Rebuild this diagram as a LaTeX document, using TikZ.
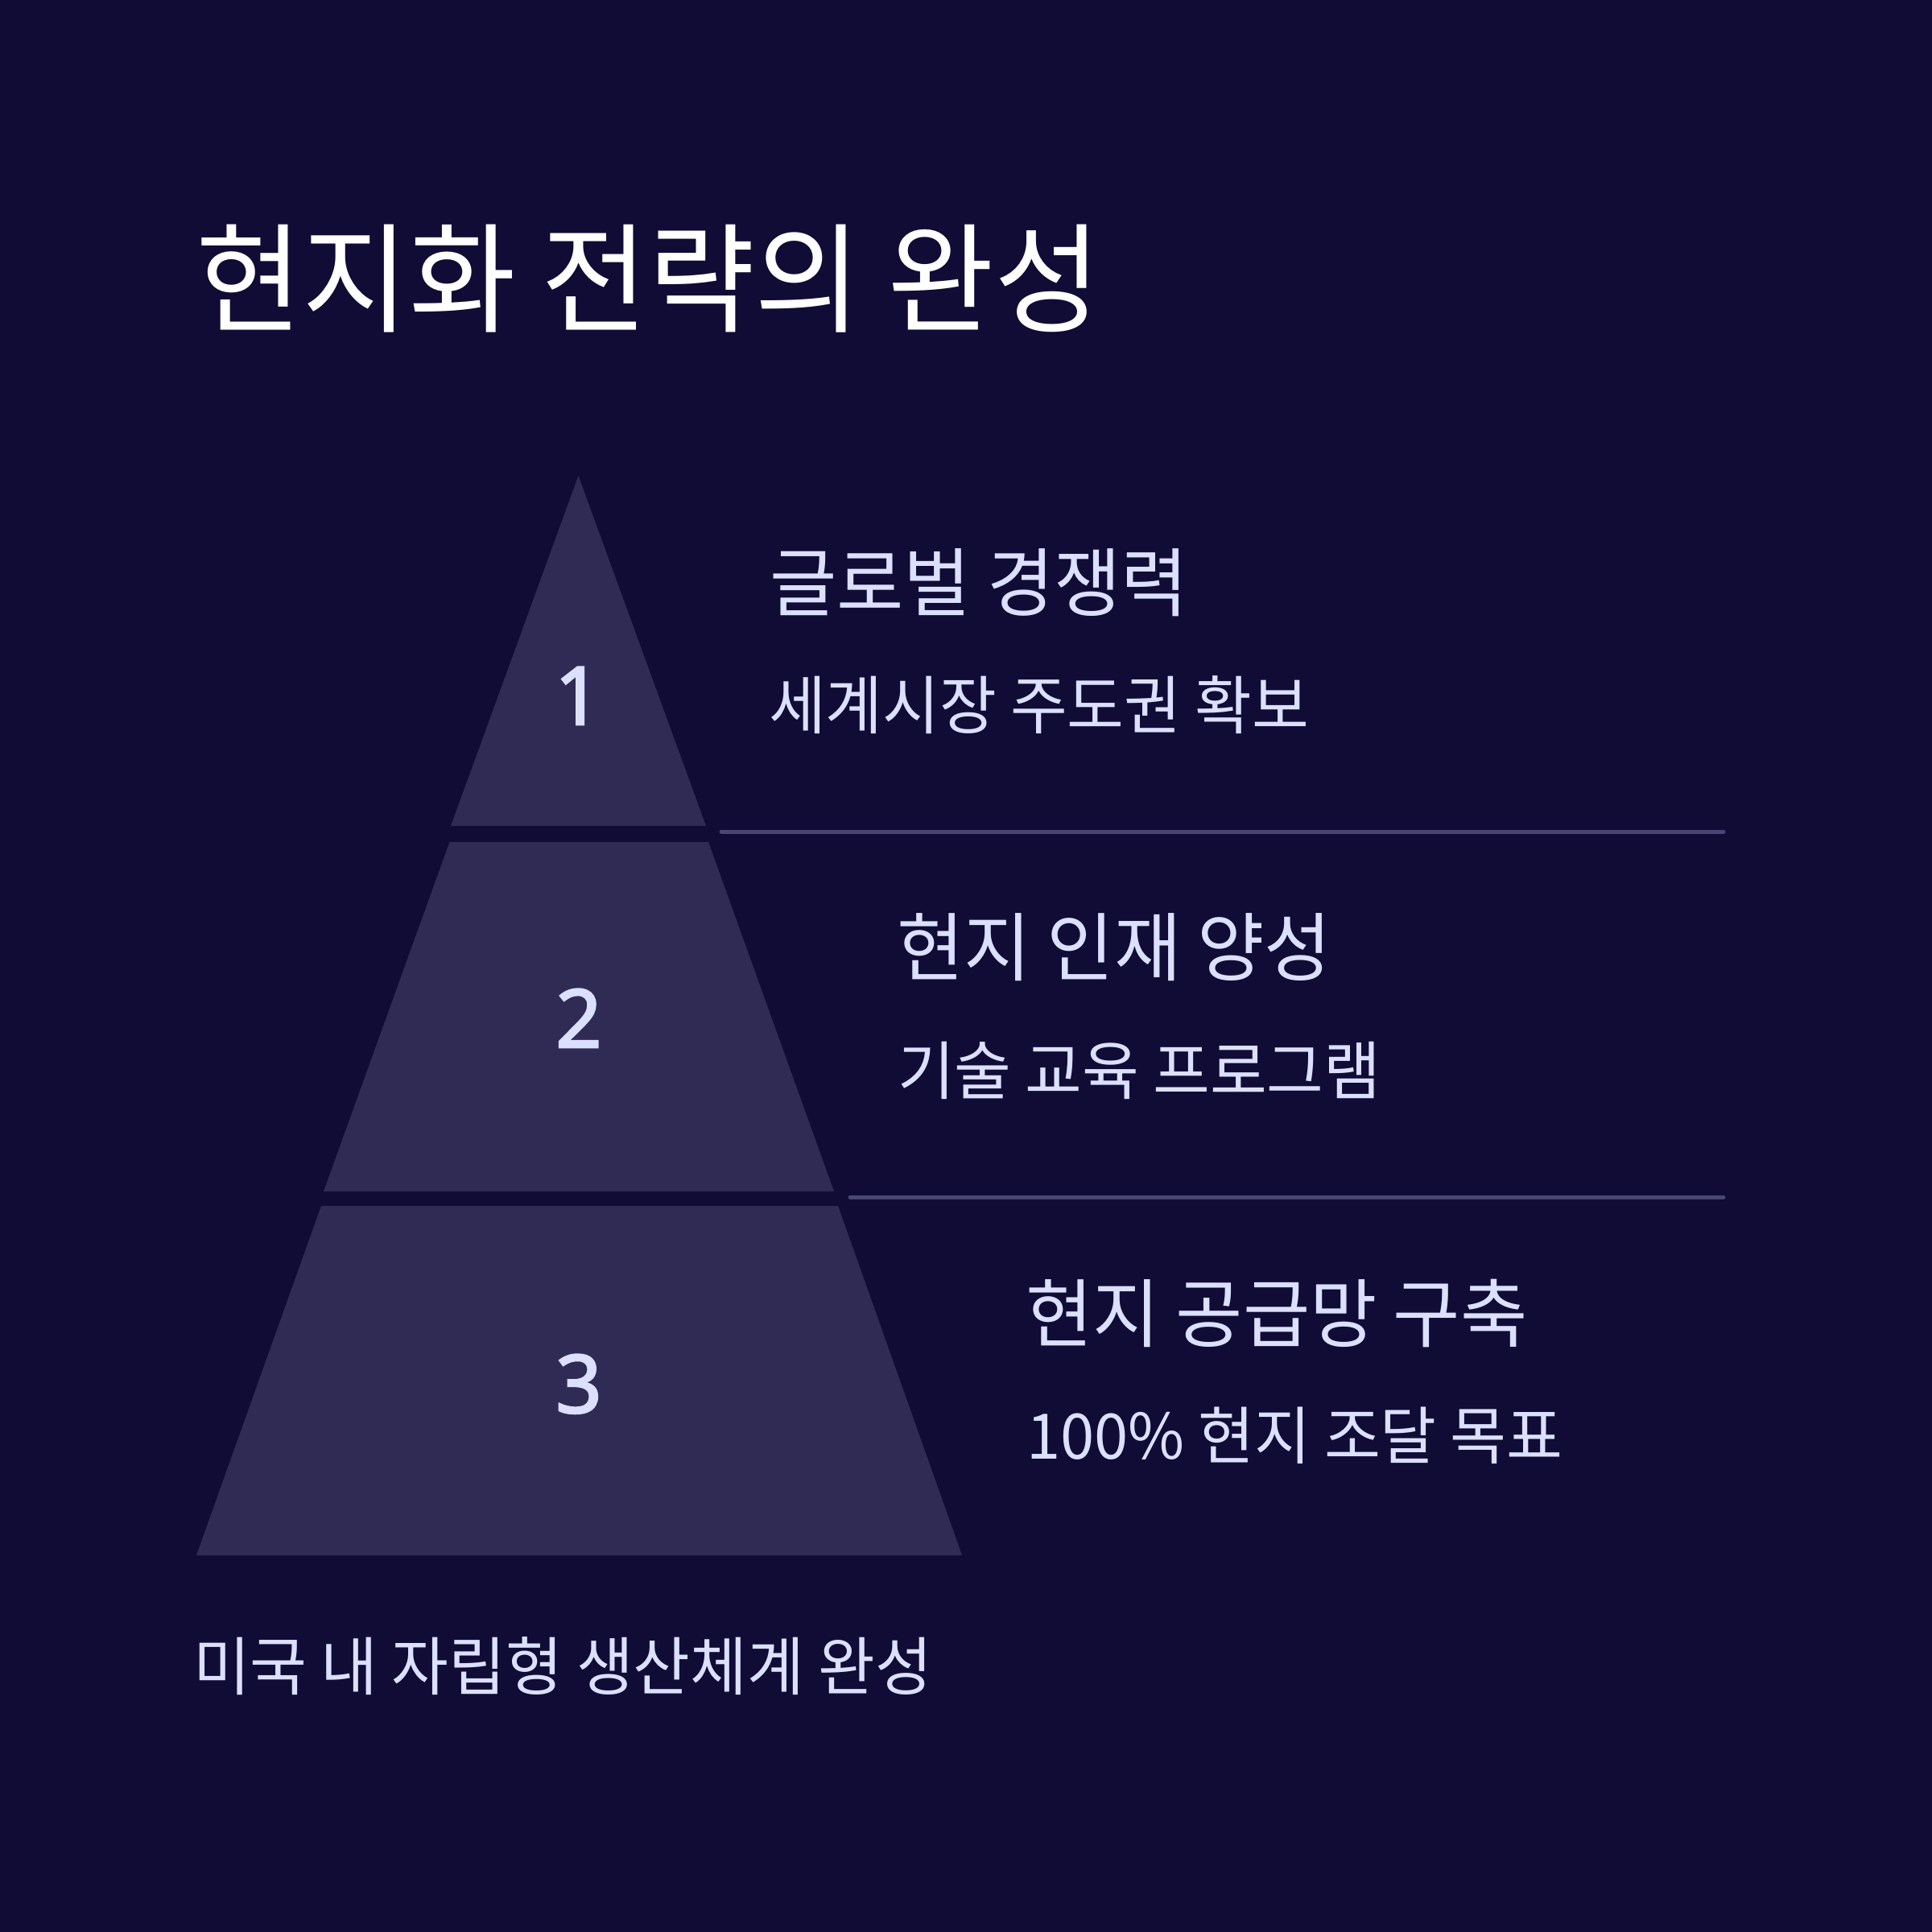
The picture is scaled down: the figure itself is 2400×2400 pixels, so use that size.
\documentclass[tikz,border=0pt]{standalone}
\usepackage{fontspec}
\setmainfont{Noto Sans CJK KR}[RawFeature=+palt, FakeStretch=0.973]
\newfontfamily\digitfont{Noto Sans}[FakeBold=2.5]
\newcommand\pxsize[1]{\fontsize{\fpeval{#1*0.28453}pt}{\fpeval{#1*0.34}pt}\selectfont}
\definecolor{bgc}{HTML}{100C35}
\definecolor{layerc}{HTML}{302B54}
\definecolor{rulec}{HTML}{4A4674}
\definecolor{txtc}{HTML}{DCE0FF}
\tikzset{
  layer/.style={fill=layerc, draw=none},
  divider/.style={draw=rulec, line width=5*0.01cm, line cap=round},
  txt/.style={anchor=base west, inner sep=0pt, outer sep=0pt, text=txtc},
  num/.style={anchor=base, inner sep=0pt, text=txtc, font=\digitfont\pxsize{100}},
}
\begin{document}
\begin{tikzpicture}[x=0.01cm,y=-0.01cm]
\fill[bgc] (0,0) rectangle (2400,2400);
\useasboundingbox (0,0) rectangle (2400,2400);
% layers
\fill[layer] (718.5,591) -- (877,1026) -- (560,1026) -- cycle;
\fill[layer] (558.5,1046) -- (880,1046) -- (1036,1480) -- (402,1480) -- cycle;
\fill[layer] (399,1498) -- (1041,1498) -- (1195,1932) -- (244,1932) -- cycle;
% dividers
\coordinate (d1a) at (896,1033);
\coordinate (d1b) at (2141,1033);
\coordinate (d2a) at (1056,1487);
\coordinate (d2b) at (2141,1487);
\draw[divider] (d1a) -- (d1b);
\draw[divider] (d2a) -- (d2b);
% numbers
\node[num] (n1) at (718,900) {1};
\node[num] (n2) at (719,1301) {2};
\node[num] (n3) at (719,1755) {3};
% title
\node[txt, text=white, font=\pxsize{148}] (title) at (243,401) {현지화 전략의 완성};
% headings
\node[txt, font=\pxsize{93}] (h1) at (956,758) {글로벌 경쟁력};
\node[txt, font=\pxsize{79}] (s1) at (955,905) {세계시장 주도권 확보};
\node[txt, font=\pxsize{93}] (h2) at (1114,1211) {현지 인재 양성};
\node[txt, font=\pxsize{79}] (s2) at (1115,1359) {기술 교육 프로그램};
\node[txt, font=\pxsize{93}] (h3) at (1274,1666) {현지 공급망 구축};
\node[txt, font=\pxsize{78}] (s3) at (1275,1812) {100\% 현지 조달 목표};
% footer
\node[txt, font=\pxsize{79}] (foot) at (240,2099) {미국 내 자립형 생산체계 완성};
\end{tikzpicture}
\end{document}
